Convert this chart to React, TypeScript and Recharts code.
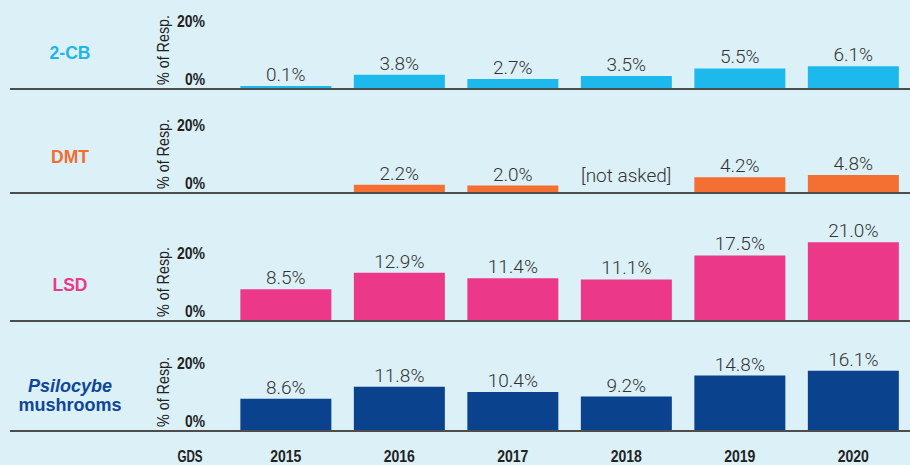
import React from 'react';
import { BarChart, Bar, XAxis, YAxis, LabelList, Label } from 'recharts';

const years = ['2015', '2016', '2017', '2018', '2019', '2020'];
const cb2Values = [0.1, 3.8, 2.7, 3.5, 5.5, 6.1];
const dmtValues = [null, 2.2, 2.0, null, 4.2, 4.8];
const lsdValues = [8.5, 12.9, 11.4, 11.1, 17.5, 21.0];
const psiloValues = [8.6, 11.8, 10.4, 9.2, 14.8, 16.1];
const dmtNotes = ['', '', '', '[not asked]', '', ''];
const yTicks = [0, 20];
const yAxisTitle = '% of Resp.';
const xAxisTitle = 'GDS';

const BG = '#dcf0f8';
const SANS = "'Liberation Sans', Arial, sans-serif";
const LIGHT = "Roboto, 'Liberation Sans', Arial, sans-serif";

type PanelDef = {
  nameLines: { text: string; italic?: boolean }[];
  color: string;
  textColor: string;
  values: (number | null)[];
  notes?: string[];
  baseline: number;
  showYears?: boolean;
};

const panels: PanelDef[] = [
  { nameLines: [{ text: '2-CB' }], color: '#1db9ec', textColor: '#20b6e6', values: cb2Values, baseline: 89 },
  { nameLines: [{ text: 'DMT' }], color: '#f36f32', textColor: '#f26d31', values: dmtValues, notes: dmtNotes, baseline: 193 },
  { nameLines: [{ text: 'LSD' }], color: '#ec3888', textColor: '#ea3a8a', values: lsdValues, baseline: 321 },
  {
    nameLines: [{ text: 'Psilocybe', italic: true }, { text: 'mushrooms' }],
    color: '#0a428e',
    textColor: '#0f4796',
    values: psiloValues,
    baseline: 431,
    showYears: true,
  },
];

const PLOT_H = 90;
const TOP_M = 20;

function CondText(props: any) {
  const { x, y, children, anchor = 'middle', size = 17, perChar = 7.8 } = props;
  const str = String(children);
  return (
    <text
      x={x}
      y={y}
      dy="0.35em"
      textAnchor={anchor}
      fontFamily={SANS}
      fontWeight="bold"
      fontSize={size}
      fill="#222"
      textLength={str.length * perChar}
      lengthAdjust="spacingAndGlyphs"
    >
      {str}
    </text>
  );
}

function YTick(props: any) {
  const { y, payload } = props;
  const v = payload.value;
  const yy = v === 0 ? y - 10 : y + 7;
  const s = `${v}%`;
  return (
    <text
      x={205}
      y={yy}
      dy="0.35em"
      textAnchor="end"
      fontFamily={SANS}
      fontWeight="bold"
      fontSize={16}
      fill="#222"
      textLength={v === 0 ? 20 : 28}
      lengthAdjust="spacingAndGlyphs"
    >
      {s}
    </text>
  );
}

function Panel({ def }: { def: PanelDef }) {
  const data = years.map((y, i) => ({ year: y, v: def.values[i], note: def.notes ? def.notes[i] : '' }));
  const xh = def.showYears ? 34 : 1;
  const height = TOP_M + PLOT_H + xh;

  const renderXTick = (p: any) => {
    const { x, y, index, payload } = p;
    const note = data[index] ? data[index].note : '';
    return (
      <g>
        {note ? (
          <text x={x} y={y - 26} dy="0.35em" textAnchor="middle" fontFamily={LIGHT} fontWeight={300} fontSize={19} fill="#333">
            {note}
          </text>
        ) : null}
        {def.showYears ? (
          <CondText x={x} y={y + 17} perChar={7.8}>
            {payload.value}
          </CondText>
        ) : null}
      </g>
    );
  };

  const renderYLabel = (p: any) => {
    const vb = p.viewBox || {};
    const base = vb.y + vb.height;
    const n = def.nameLines.length;
    return (
      <g>
        <text
          x={0}
          y={0}
          transform={`translate(163, ${base - 39}) rotate(-90)`}
          dy="0.35em"
          textAnchor="middle"
          fontFamily={SANS}
          fontSize={16}
          fill="#222"
          textLength={70}
          lengthAdjust="spacingAndGlyphs"
        >
          {yAxisTitle}
        </text>
        {def.nameLines.map((ln, i) => (
          <text
            key={i}
            x={70}
            y={base - 36 + (i - (n - 1) / 2) * 19}
            dy="0.35em"
            textAnchor="middle"
            fontFamily={SANS}
            fontWeight="bold"
            fontStyle={ln.italic ? 'italic' : 'normal'}
            fontSize={n > 1 ? 18 : 17.5}
            fill={def.textColor}
          >
            {ln.text}
          </text>
        ))}
      </g>
    );
  };

  const renderXLabel = (p: any) => {
    const vb = p.viewBox || {};
    return (
      <CondText x={190} y={vb.y + 25} perChar={8.4}>
        {xAxisTitle}
      </CondText>
    );
  };

  return (
    <div style={{ position: 'absolute', left: 0, top: def.baseline - PLOT_H - TOP_M, width: 910, height }}>
      <BarChart
        width={910}
        height={height}
        data={data}
        margin={{ top: TOP_M, right: 0, bottom: 0, left: 0 }}
        barCategoryGap="10%"
        style={{ overflow: 'visible' }}
      >
        <XAxis
          dataKey="year"
          padding={{ left: 219, right: 0 }}
          height={xh}
          axisLine={{ stroke: '#4d4d4d', strokeWidth: 2 }}
          tickLine={false}
          tick={renderXTick}
          interval={0}
        >
          {def.showYears ? <Label content={renderXLabel} /> : null}
        </XAxis>
        <YAxis domain={[0, 24]} ticks={yTicks} width={10} axisLine={false} tickLine={false} tick={<YTick />} interval={0}>
          <Label content={renderYLabel} />
        </YAxis>
        <Bar
          dataKey="v"
          fill={def.color}
          isAnimationActive={false}
          minPointSize={(value: any) => (value != null && value > 0 && value < 1 ? 3 : 0)}
        >
          <LabelList
            dataKey="v"
            position="top"
            offset={5}
            formatter={(v: any) => (v == null ? '' : `${Number(v).toFixed(1)}%`)}
            style={{ fontFamily: LIGHT, fontWeight: 300, fontSize: 19, fill: '#333' }}
          />
        </Bar>
      </BarChart>
    </div>
  );
}

export default function App() {
  return (
    <div style={{ position: 'relative', width: 910, height: 465, background: BG, overflow: 'hidden' }}>
      <style>{'body{margin:0;}'}</style>
      {panels.map((p, i) => (
        <Panel key={i} def={p} />
      ))}
    </div>
  );
}
